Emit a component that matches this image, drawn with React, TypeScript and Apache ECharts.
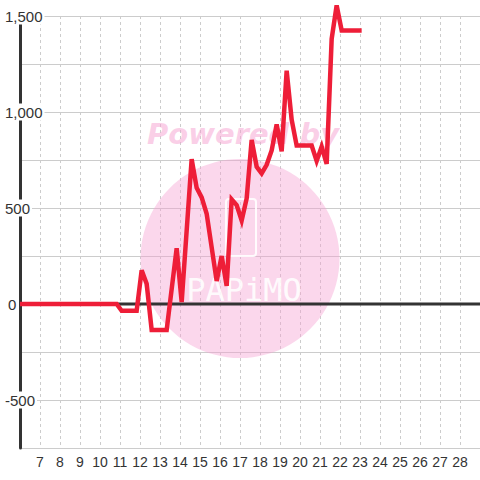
import React, { useEffect, useRef } from "react";
import * as echarts from "echarts";

const xValues = [6, 10.833, 11.083, 11.833, 12.083, 12.333, 12.583, 13.333, 13.833, 14.083, 14.583, 14.833, 15.083, 15.333, 15.833, 16.083, 16.333, 16.583, 16.833, 17.083, 17.333, 17.583, 17.833, 18.083, 18.333, 18.583, 18.833, 19.083, 19.333, 19.583, 19.833, 20.583, 20.833, 21.083, 21.333, 21.583, 21.833, 22.083, 23.083];
const yValues = [0, 0, -35, -35, 175, 105, -135, -135, 290, 10, 755, 605, 555, 470, 120, 250, 95, 545, 515, 435, 550, 855, 715, 680, 725, 800, 935, 795, 1215, 960, 825, 825, 745, 820, 730, 1380, 1555, 1425, 1425];
const xRange = [6, 29];
const yRange = [-750, 1500];
const zeroLine = [[6, 0], [29, 0]];

export default function App() {
  const ref = useRef<HTMLDivElement>(null);
  useEffect(() => {
    if (!ref.current) return;
    const chart = echarts.init(ref.current, null, { renderer: "svg" });
    const data = xValues.map((x, i) => [x, yValues[i]]);
    chart.setOption({
      animation: false,
      backgroundColor: "#fff",
      grid: { left: 20, right: 0, top: 16, bottom: 32 },
      xAxis: {
        type: "value",
        min: xRange[0],
        max: xRange[1],
        interval: 1,
        axisLine: { show: false },
        axisTick: { show: false },
        splitLine: { show: true, lineStyle: { color: "#cccccc", type: [3, 3], width: 1 } },
        axisLabel: {
          showMinLabel: false,
          showMaxLabel: false,
          color: "#333",
          fontSize: 14,
          fontFamily: "Liberation Sans",
          margin: 7,
        },
      },
      yAxis: {
        type: "value",
        min: yRange[0],
        max: yRange[1],
        interval: 250,
        axisLine: { show: true, lineStyle: { color: "#333", width: 3 } },
        axisTick: { show: false },
        splitLine: { show: true, lineStyle: { color: "#cccccc", width: 1 } },
        axisLabel: {
          formatter: (v: number) =>
            v === 0 ? "{z|0}" : v % 500 === 0 ? v.toLocaleString("en-US") : "",
          align: "left",
          margin: 17,
          color: "#333",
          fontSize: 15,
          fontFamily: "Liberation Sans",
          backgroundColor: "#fff",
          padding: [1, 2, 1, 2],
          rich: {
            z: {
              color: "#333",
              fontSize: 15,
              fontFamily: "Liberation Sans",
              padding: [0, 0, 0, 3],
            },
          },
        },
      },
      graphic: [
        {
          type: "circle",
          z: 1,
          silent: true,
          shape: { cx: 240, cy: 258.5, r: 99.5 },
          style: { fill: "rgba(245,160,210,0.42)" },
        },
        {
          type: "text",
          z: 1,
          silent: true,
          x: 147,
          y: 134,
          style: {
            text: "Powered by",
            fill: "rgba(246,160,208,0.5)",
            font: "italic bold 29px 'DejaVu Sans'",
            textVerticalAlign: "middle",
          },
        },
        {
          type: "rect",
          z: 1,
          silent: true,
          shape: { x: 226, y: 199, width: 30, height: 57, r: 3 },
          style: { fill: "none", stroke: "rgba(255,255,255,0.9)", lineWidth: 2 },
        },
        {
          type: "text",
          z: 1,
          silent: true,
          x: 244,
          y: 290,
          style: {
            text: "PAPiMO",
            fill: "rgba(255,255,255,0.9)",
            font: "normal 32px 'DejaVu Sans Mono'",
            textAlign: "center",
            textVerticalAlign: "middle",
          },
        },
      ],
      series: [
        {
          type: "line",
          data: zeroLine,
          symbol: "none",
          silent: true,
          z: 3,
          lineStyle: { color: "#333", width: 3 },
        },
        {
          type: "line",
          data,
          symbol: "none",
          clip: false,
          z: 5,
          lineStyle: { color: "#ee1e38", width: 4.5, join: "miter" },
        },
      ],
    });
    return () => chart.dispose();
  }, []);
  return <div ref={ref} style={{ position: "fixed", left: 0, top: 0, width: 480, height: 480 }} />;
}
